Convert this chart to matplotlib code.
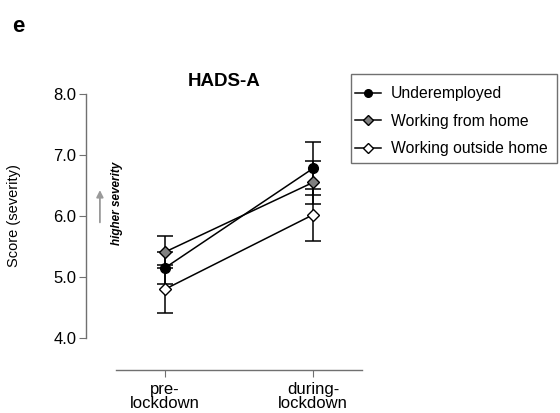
import numpy as np
import matplotlib
matplotlib.use("Agg")
import matplotlib.pyplot as plt
from matplotlib.lines import Line2D
from matplotlib.patches import Rectangle

plt.rcParams['font.family'] = ['Liberation Sans', 'DejaVu Sans']

# data
timepoints = ['pre-\nlockdown', 'during-\nlockdown']
groups = ['Underemployed', 'Working from home', 'Working outside home']
means = {
    'Underemployed': [5.15, 6.78],
    'Working from home': [5.41, 6.55],
    'Working outside home': [4.80, 6.02],
}
errs = {
    'Underemployed': [0.265, 0.43],
    'Working from home': [0.27, 0.35],
    'Working outside home': [0.39, 0.43],
}
markers = {'Underemployed': 'o', 'Working from home': 'D', 'Working outside home': 'D'}
faces = {'Underemployed': 'black', 'Working from home': '#808080', 'Working outside home': 'white'}
sizes = {'Underemployed': 7, 'Working from home': 6.5, 'Working outside home': 6.5}

W, H = 560, 413
fig = plt.figure(figsize=(5.6, 4.13), dpi=100)
ax = fig.add_axes([86/W, 43/H, 276/W, 276/H])

x = np.arange(len(timepoints))
handles = []
for g in groups:
    # error bars sit behind every marker
    ax.errorbar(x, means[g], yerr=errs[g], fmt='none', ecolor='black',
                capsize=6, capthick=1.1, elinewidth=1.1, zorder=2)
    ax.plot(x, means[g], color='black', lw=1.1, marker=markers[g], ms=sizes[g],
            mfc=faces[g], mec='black', mew=1, zorder=3)
    handles.append(Line2D([], [], color='black', lw=1.1, marker=markers[g], ms=5.5,
                          mfc=faces[g], mec='black', mew=1, label=g))

ax.set_xlim(-0.534, 1.331)
ax.set_ylim(3.475, 8.0)
ax.set_yticks([4, 5, 6, 7, 8])
ax.set_yticklabels(['4.0', '5.0', '6.0', '7.0', '8.0'])
ax.set_xticks(x)
ax.set_xticklabels(timepoints, linespacing=0.95)

for s in ['top', 'right']:
    ax.spines[s].set_visible(False)
ax.spines['left'].set_bounds(4, 8)
ax.spines['bottom'].set_bounds(-0.331, 1.331)
for s in ['left', 'bottom']:
    ax.spines[s].set_color('#707070')
    ax.spines[s].set_linewidth(1)
ax.tick_params(axis='both', colors='#707070', labelcolor='black', labelsize=12, length=5)
ax.tick_params(axis='y', pad=2)

ax.set_ylabel('Score (severity)', fontsize=10.5)
ax.yaxis.set_label_coords(-0.235, 0.5 + 16/276)
ax.set_title('HADS-A', fontsize=13.5, fontweight='bold', pad=6)

# direction hint
ax.annotate('', xy=(-0.44, 6.47), xytext=(-0.44, 5.85),
            arrowprops=dict(arrowstyle='-|>', color='#9a9a9a', lw=1.3, mutation_scale=10))
ax.text(-0.325, 6.21, 'higher severity', rotation=90, fontsize=8.5, fontweight='bold',
        style='italic', ha='center', va='center')

# legend with a hand drawn box
leg = fig.legend(handles=handles, loc='upper left', bbox_to_anchor=(355/W, 1 - 86/H),
                 frameon=False, fontsize=11.3, handlelength=1.65, handletextpad=0.65,
                 borderpad=0, labelspacing=0.8, borderaxespad=0)
fig.patches.append(Rectangle((351/W, 1 - 163/H), 206/W, 89/H, transform=fig.transFigure,
                             fill=False, edgecolor='#707070', lw=1))

fig.text(12/W, 1 - 26/H, 'e', fontsize=16, fontweight='bold', va='center')

fig.savefig('out.png', dpi=100)
